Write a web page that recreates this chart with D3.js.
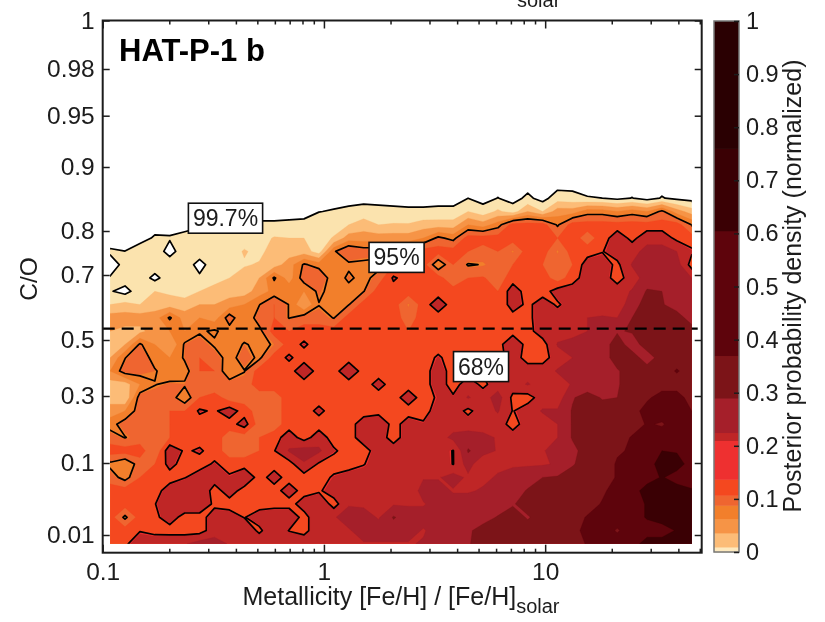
<!DOCTYPE html>
<html><head><meta charset="utf-8">
<script src="https://cdn.jsdelivr.net/npm/d3@7"></script>
<style>html,body{margin:0;padding:0;background:#fff}svg{display:block;filter:blur(.45px)}text{font-family:"Liberation Sans",Arial,sans-serif;fill:#1c1c1c}</style>
</head><body><div id="chart"></div>
<script>
const metTicksMajor=[0.1,1,10];
const metTicksMinor=[0.2,0.3,0.4,0.5,0.6,0.7,0.8,0.9,2,3,4,5,6,7,8,9,20,30,40,50];
const coTicks=[0.01,0.1,0.3,0.5,0.7,0.8,0.9,0.95,0.98,1];
const coAnchor=[0,0.01,0.1,0.3,0.5,0.7,0.8,0.9,0.95,0.98,1];
const barTicks=[0,0.1,0.2,0.3,0.4,0.5,0.6,0.7,0.8,0.9,1];
const barStops=[0,0.0095,0.036,0.063,0.088,0.107,0.137,0.21,0.225,0.29,0.37,0.605,0.76,1];
const barColors=["#FDE9BE","#FCBC77","#F69446","#F27F2B","#EF6530","#F4481F","#EE3030","#BF2626","#A51F2A","#7C1418","#5E040C","#3A0004","#2A0002"];
const levelThresholds=[0.4,1.5,2.5,3.5,4.6,5.5,6.45,6.55,7.5,8.5,9.5,10.5];
const levelColors=["#FBE3AE","#FCBC77","#F69446","#F27F2B","#EF6530","#F4481F","#EE3030","#BF2626","#A51F2A","#7C1418","#5E040C","#3A0004"];
const confidenceLevels=[0.4,4.45,6.45];
const gridMet=[0.108,46];
const gridCO=[0.872,0.005];
const solarCO=0.535;
const confidenceLabels=[{t:"99.7%",met:0.359,co:0.82},{t:"95%",met:2.13,co:0.74},{t:"68%",met:5.13,co:0.405}];

const r27=[0,0,0,0,0,0,0,0,0,0, 0,0,0,0,0,0,0,0,0,0, 0,0,0,0,0,0,0,0,0,0, 0,0,0,0,0,0,0,0,0,0];
const r26=[0,0,0,0,0,0,0,0,0,0, 0,0,0,0,0,0,0,0,0,0, 0,0,0,0,.4,0,.43,0,.64,0, 1,.85,.47,.4,.14,.43,0,.47,.14,0];
const r25=[0,0,0,0,0,0,0,0,0,0, 0,0,0,0,.37,.49,.67,.89,.77,.67, .6,.6,.67,.67,1.5,.9,1.7,1,2.5,1.5, 3,3,4,4,3.5,4,3.5,4.7,3,2];
const r24=[0,0,0,0,0,0,.23,.4,.47,.52, .57,.57,.63,.72,1,1,1.5,2,1.5,1.6, 1.6,2,2,2,3.5,3,4,6,6,6, 4.3,6,6,6,6,6,6,6,6,4.4];
const r23=[0,0,0,.53,.49,.77,1,1,1,1, 1,1.6,1.5,1.5,1,1.6,3,3,3,3, 3,3.5,4.7,4.1,6,6,6,6,6,6, 5.5,6,5,6,7,6.2,7,7,6.2,6];
const r22=[.51,.41,.97,1,0,1,1,1,1,1.6, 1.2,2,2,2,1,4.3,5.5,5,5,5, 5,6,6,6,5.5,5,5.5,4.5,6,6, 4.5,6,6,6.4,7,7,8,8,7.5,6.6];
const r21=[.1,.59,1,1,1,1,0,1,1,1.4, 1.6,2,3,4.6,4,3.5,4.2,4.2,4,5.5, 6,6,3.5,5.5,4.35,4.5,5,5.5,6,5.5, 5,5.5,7,7,6.2,7.6,8,8,8,6];
const r20=[.45,1,1,.1,1,1,.6,1,1.5,2, 2.5,4.6,3,5,5.5,3.7,4.7,4,5,6.6, 6,6,6,4.6,5.5,5.6,5,6,6,6, 5,6,7,7,6,7,8,8,8.5,7.5];
const r19=[.5,0,1,1.5,1.3,1,1.5,2,2,2, 3,3.8,4.2,3.5,4.7,4,4,4.4,6,6, 6,6,6,6,6,6,5.5,7,6,6, 6.9,7,7,7,7,7.6,8.6,8.5,8,8];
const r18=[1.5,1.8,1.5,2,2,2,2.5,2.5,3,3.5, 4.4,5.5,4.4,2.5,4.4,4,4.4,6,6,6, 4.5,6,7,6,6,6,5.5,7,6.2,7, 6.3,7,7,7,7,8,9,8.6,8,8];
const r17=[3,3,3,3,4.6,3,3.5,3,5,3.5, 5,5.5,4.4,5,5,4.4,6,6,5.5,6, 5,6,6,6,6,6,5.5,6,6.2,7, 7,7.2,7.5,7.6,7.5,8.5,9,9,9,8];
const r16=[2.5,2.2,2.2,3,3.5,3.5,4.3,4.6,4,3.6, 4.1,6,5.5,6,6,6,6,6,6,6, 5.5,6,6,6,6,6,6,6,6.1,7, 7,7,7.5,7.8,8.4,8.6,9,9,9,9];
const r15=[2,2.5,4.6,3.5,2.5,4.6,5,4.3,3.5,4.6, 4,4.6,6,6.6,6,6,6,6,6,6, 5.5,5.5,6,6,6,5.5,6,7.4,6,6, 7.6,8,7.5,8,9,8,9,9,9,9];
const r14=[2.5,4.4,5.5,3.8,3.5,4.6,5.5,5,4,5, 4.2,6,6.6,6,6,6,6,6,6,6, 6,6,6.6,6,6,6,6,7,6,6, 7,7.5,8,8,9,9,8,9,9,9];
const r13=[3.5,5,5,4.6,3.6,4,5.5,5.5,3.5,4.4, 6,6,6,7.2,6,6,7.3,6,6,6, 6,6,7,6,6,6.6,7,7,7,7, 7.6,7.6,8,8,8.4,9,9,9,9.6,9];
const r12=[2,2,3.5,4.4,4.7,4.6,5,4.6,5,5, 6,6,6,6,6,6,6,6,6.8,6, 6,6,7,6,7,6.2,7,7,7.6,7, 7,7.6,7.8,8.3,8.4,9,9,9,9,9];
const r11=[2,1.5,5,5,5,3.7,5.5,6,5,5, 5,5,6,5.5,6,6,6,6,6,6, 7,6,6.6,6.6,7.6,7,8,6.2,6,7, 7,8.4,9,8.4,8.5,9,9.3,10,10,9];
const r10=[3,3.5,5,5,5.5,5.5,6.6,6.3,7,6, 5,5,6,6,6.7,6,6,6,6,6, 6,6,7,7,6.2,7,7.6,6.4,7,7.6, 7.6,8.6,9,9,9,9,10,10,10,9.5];
const r09=[4,5,5,5,5.5,6,6,6,6,6.9, 5,5,6,6,6,6,6,7,7.5,6, 7,6.6,7,7,7,7,7,6,7,7, 7.5,8.6,9,9,9,9,9.6,9.4,10,9.5];
const r08=[5,4.4,5,5,5.5,6,6,6,5,5, 5.5,6,7,6,7,6,6,7,7,6, 7,7,7,7.8,8,7.8,7.4,7,7.2,7.2, 7.5,8.6,9,9,9,9.6,9.5,10,10,10];
const r07=[6,6,6,4.6,7.2,6.3,6.6,6,5,5, 5.5,6.4,7.6,8,7.7,6.6,6,6,7,7, 7,7,7,6.4,8.6,8,7.4,7.2,7.4,7.4, 8,8.2,9,9,9.4,9.6,10,10.5,10.4,10];
const r06=[4.2,3.5,5,5.5,6.8,6,6,6.6,6,6, 6,6,6,7.4,6.3,6,6,6.4,7,7, 7.2,7.2,7.2,6.4,8,6.6,7.3,7.4,7.4,7.4, 7.6,8.4,9,9,9.6,10,10,11,11,10];
const r05=[5,4,5.5,6,6,6.4,7,7,6.6,7.4, 6,6.9,6,6,6,6.6,7,7,7.4,7.4, 7.3,7.4,7.4,8,7.3,7.3,7.6,7.8,8,8.5, 8.6,9,9,9,9.6,10,10,10.6,10,10];
const r04=[6,6,6,6,7,7.4,7.4,6,7,6, 6,6,7,6,6.3,7,7.4,7.4,7.4,7.4, 6.6,8,8,7.4,7.4,7.6,8,8,8.6,9, 9,9,9,9.3,10,10,11,11,11,10.6];
const r03=[6,6,6,6.4,7.4,7.4,7.4,6.2,6,6.4, 6,6,6,7,7.4,6,7.4,7.3,7.4,7.4, 7.4,7.4,8,8,8,7.6,7.8,8.4,9,9, 9,9,9,9.6,10,10,10.6,11,11,11];
const r02=[6,4.2,6,6.2,7,6,6,7,7,6.4, 7,7.4,7.4,6,7.4,7.4,8,8,7.4,8.6, 8,8,8,8,8,8,8.6,9,8.4,9, 9,9,9.6,10,10,10,10.6,11,11,11];
const r01=[6,6,6.4,6.2,6,6,6,7,7,7.4, 6.2,7.4,6.4,6,7.4,7.4,7.4,8,8,8, 8,7.4,8,8,8.3,9,9,9,9,9, 9,9.4,9.6,10,9.4,10,10,10,10.6,11];
const r00=[6,6.3,7,7,7.4,7.4,8,8,7.4,7.3, 7.4,7.4,7.4,7.4,7.4,7.4,7.4,7.4,7.4,7.4, 7.4,7.6,8,8,8.4,9,9,9,9,9, 9,9,9.6,9.6,10,10,11,11,11,11];
const densityRows=[r27,r26,r25,r24,r23,r22,r21,r20,r19,r18,r17,r16,r15,r14,r13,r12,r11,r10,r09,r08,r07,r06,r05,r04,r03,r02,r01,r00];

const W=825,H=622;
const fL=102.7,fR=701.7,fT=20.5,fB=552.7;
const x=d3.scaleLog().domain([0.1,51]).range([fL,fR]);
const y=d3.scaleLinear().domain(coAnchor).range([552.7,535,463,396,340,275,231,167,115.7,69,20.5]);
const bar=d3.scaleLinear().domain([0,1]).range([552,21]);
const nx=densityRows[0].length,ny=densityRows.length;
const colX=d3.scaleLinear().domain([0,nx-1]).range([x(gridMet[0]),x(gridMet[1])]);
const rowY=d3.scaleLinear().domain([0,ny-1]).range([y(gridCO[0]),y(gridCO[1])]);
const flat=densityRows.flat();
const svg=d3.select("#chart").append("svg").attr("width",W).attr("height",H);
svg.append("defs").append("clipPath").attr("id","dataClip").append("rect")
  .attr("x",colX(0)).attr("y",fT).attr("width",colX(nx-1)-colX(0)).attr("height",rowY(ny-1)-fT);
const path=d3.geoPath(d3.geoTransform({point(a,b){this.stream.point(colX(a-.5),rowY(b-.5));}}));
const contours=d3.contours().size([nx,ny]).smooth(true);
const plot=svg.append("g").attr("clip-path","url(#dataClip)");
plot.selectAll("path.fill").data(contours.thresholds(levelThresholds)(flat)).join("path")
  .attr("class","fill").attr("d",path).attr("fill",(d,i)=>levelColors[i]).attr("stroke",(d,i)=>levelColors[i]).attr("stroke-width",0.3);
plot.selectAll("path.line").data(contours.thresholds(confidenceLevels)(flat)).join("path")
  .attr("class","line").attr("d",path).attr("fill","none").attr("stroke","#000").attr("stroke-width",1.7).attr("stroke-linejoin","round");
svg.append("line").attr("x1",fL).attr("x2",fR-4).attr("y1",y(solarCO)).attr("y2",y(solarCO))
  .attr("stroke","#000").attr("stroke-width",2.4).attr("stroke-dasharray","12 7");
svg.append("rect").attr("x",fL).attr("y",fT).attr("width",fR-fL).attr("height",fB-fT).attr("fill","none").attr("stroke","#1c1c1c").attr("stroke-width",2);
function styleAxis(size){return g=>{g.select(".domain").remove();g.selectAll("line").attr("stroke","#1c1c1c").attr("stroke-width",1.5);g.selectAll("text").attr("font-size",size).attr("fill","#1c1c1c");};}
const tickStyle=styleAxis(24.5);
svg.append("g").attr("transform",`translate(0,${fB})`).call(d3.axisBottom(x).tickValues(metTicksMajor).tickFormat(d3.format("~g")).tickSize(-8).tickPadding(10)).call(tickStyle);
svg.append("g").attr("transform",`translate(0,${fB})`).call(d3.axisBottom(x).tickValues(metTicksMinor).tickFormat("").tickSize(-4)).call(tickStyle);
svg.append("g").attr("transform",`translate(0,${fT})`).call(d3.axisTop(x).tickValues(metTicksMajor).tickFormat("").tickSize(-8)).call(tickStyle);
svg.append("g").attr("transform",`translate(0,${fT})`).call(d3.axisTop(x).tickValues(metTicksMinor).tickFormat("").tickSize(-4)).call(tickStyle);
svg.append("g").attr("transform",`translate(${fL},0)`).call(d3.axisLeft(y).tickValues(coTicks).tickFormat(d3.format("~g")).tickSize(-7).tickPadding(8)).call(tickStyle);
svg.append("g").attr("transform",`translate(${fR},0)`).call(d3.axisRight(y).tickValues(coTicks).tickFormat("").tickSize(-7)).call(tickStyle);
const xt=svg.append("text").attr("x",401).attr("y",604.5).attr("text-anchor","middle").attr("font-size",25);
xt.append("tspan").text("Metallicity [Fe/H] / [Fe/H]");
xt.append("tspan").text("solar").attr("font-size",20).attr("dy",8);
svg.append("text").attr("transform","translate(37,279) rotate(-90)").attr("text-anchor","middle").attr("font-size",24.5).text("C/O");
svg.append("text").attr("x",119).attr("y",61).attr("font-size",31).attr("font-weight","bold").style("fill","#000").text("HAT-P-1 b");
svg.append("text").attr("x",517).attr("y",6.5).attr("font-size",20).text("solar");
confidenceLabels.forEach(l=>{
  const px=x(l.met),py=y(l.co);
  const g=svg.append("g");
  const r=g.append("rect");
  const t=g.append("text").attr("x",px).attr("y",py+8).attr("text-anchor","middle").attr("font-size",23).text(l.t);
  const w=t.node().getComputedTextLength()+9;
  r.attr("x",px-w/2).attr("y",py-15).attr("width",w).attr("height",30).attr("fill","#fff").attr("stroke","#111").attr("stroke-width",1.6);
});
const barG=svg.append("g");
barG.selectAll("rect").data(barColors).join("rect").attr("x",714).attr("width",25)
  .attr("y",(d,i)=>bar(barStops[i+1])).attr("height",(d,i)=>bar(barStops[i])-bar(barStops[i+1])+0.5).attr("fill",d=>d);
barG.append("rect").attr("x",714).attr("y",21).attr("width",25).attr("height",531).attr("fill","none").attr("stroke","#777").attr("stroke-width",1.5);
svg.append("g").attr("transform","translate(739,0)").call(d3.axisRight(bar).tickValues(barTicks).tickFormat(d3.format("~g")).tickSize(-5).tickPadding(7)).call(styleAxis(23.5));
svg.append("text").attr("transform","translate(801,286) rotate(-90)").attr("text-anchor","middle").attr("font-size",25).text("Posterior probability density (normalized)");
</script></body></html>
